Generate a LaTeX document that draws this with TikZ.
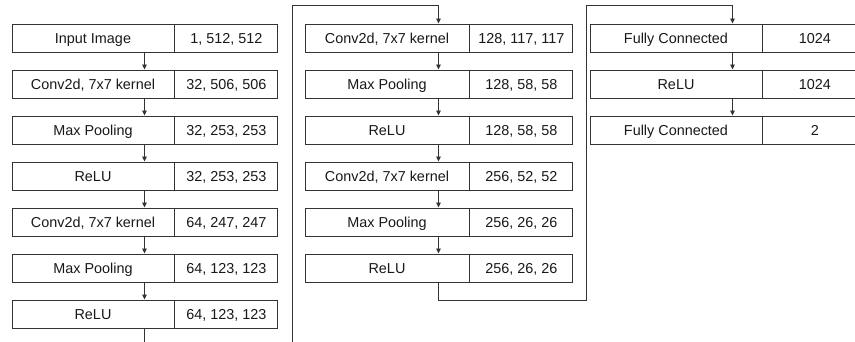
\documentclass[tikz,border=0pt]{standalone}
\usepackage{fontspec}
\setmainfont{Liberation Sans}
\usetikzlibrary{arrows.meta,calc}
\definecolor{linec}{HTML}{333333}
\begin{document}
\begin{tikzpicture}[x=1pt,y=-1pt,
  cell/.style={draw=linec,line width=0.9pt,minimum height=28pt,inner sep=0pt,
    text height=10.3pt,text depth=-0.6pt,
    font=\fontsize{14.4}{17}\selectfont,text=black!90},
  lc1/.style={cell,minimum width=162pt},
  lc2/.style={cell,minimum width=164pt},
  lc3/.style={cell,minimum width=172pt},
  rc/.style={cell,minimum width=103pt,anchor=west},
  arr/.style={draw=linec,line width=0.9pt,-{Triangle[length=5pt,width=4.5pt]}},
  wire/.style={draw=linec,line width=0.9pt}]
\clip (0,0) rectangle (855,342);
\fill[white] (0,0) rectangle (855,342);
% column guide coordinates
\coordinate (c1) at (144.5,0);
\coordinate (c2) at (438.5,0);
\coordinate (c3) at (732.5,0);
% column 1
\node[lc1] (L1) at (93,38)  {Input Image};        \node[rc] (R1) at (L1.east) {1, 512, 512};
\node[lc1] (L2) at (93,84)  {Conv2d, 7x7 kernel}; \node[rc] (R2) at (L2.east) {32, 506, 506};
\node[lc1] (L3) at (93,130) {Max Pooling};        \node[rc] (R3) at (L3.east) {32, 253, 253};
\node[lc1] (L4) at (93,176) {ReLU};               \node[rc] (R4) at (L4.east) {32, 253, 253};
\node[lc1] (L5) at (93,222) {Conv2d, 7x7 kernel}; \node[rc] (R5) at (L5.east) {64, 247, 247};
\node[lc1] (L6) at (93,268) {Max Pooling};        \node[rc] (R6) at (L6.east) {64, 123, 123};
\node[lc1] (L7) at (93,314) {ReLU};               \node[rc] (R7) at (L7.east) {64, 123, 123};
% column 2
\node[lc2] (L8)  at (387,38)  {Conv2d, 7x7 kernel}; \node[rc] (R8)  at (L8.east)  {128, 117, 117};
\node[lc2] (L9)  at (387,84)  {Max Pooling};        \node[rc] (R9)  at (L9.east)  {128, 58, 58};
\node[lc2] (L10) at (387,130) {ReLU};               \node[rc] (R10) at (L10.east) {128, 58, 58};
\node[lc2] (L11) at (387,176) {Conv2d, 7x7 kernel}; \node[rc] (R11) at (L11.east) {256, 52, 52};
\node[lc2] (L12) at (387,222) {Max Pooling};        \node[rc] (R12) at (L12.east) {256, 26, 26};
\node[lc2] (L13) at (387,268) {ReLU};               \node[rc] (R13) at (L13.east) {256, 26, 26};
% column 3
\node[lc3] (L14) at (676,38)  {Fully Connected}; \node[rc,minimum width=104pt] (R14) at (L14.east) {1024};
\node[lc3] (L15) at (676,84)  {ReLU};            \node[rc,minimum width=104pt] (R15) at (L15.east) {1024};
\node[lc3] (L16) at (676,130) {Fully Connected}; \node[rc,minimum width=104pt] (R16) at (L16.east) {2};
% arrows
\foreach \a/\b in {1/2,2/3,3/4,4/5,5/6,6/7}
  \draw[arr] (L\a.south -| c1) -- (L\b.north -| c1);
\foreach \a/\b in {8/9,9/10,10/11,11/12,12/13}
  \draw[arr] (L\a.south -| c2) -- (L\b.north -| c2);
\foreach \a/\b in {14/15,15/16}
  \draw[arr] (L\a.south -| c3) -- (L\b.north -| c3);
% free ends and bends
\coordinate (e1) at (144.5,345);
\coordinate (s2) at (292.5,345);
\coordinate (t2) at (292.5,5);
\coordinate (b2) at (586,300.5);
\coordinate (t3) at (586,5);
\draw[wire] (L7.south -| c1) -- (e1);
\draw[arr] (s2) -- (t2) -- (t2 -| c2) -- (L8.north -| c2);
\draw[arr] (L13.south -| c2) -- (b2 -| c2) -- (b2) -- (t3) -- (t3 -| c3) -- (L14.north -| c3);
\end{tikzpicture}
\end{document}
